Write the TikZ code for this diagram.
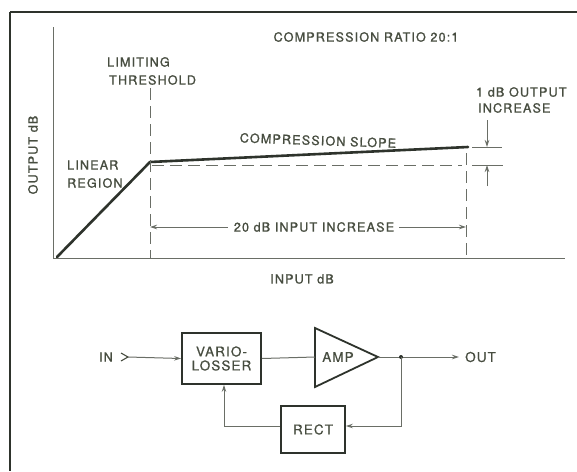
\documentclass[tikz,border=0pt]{standalone}
\usepackage{fontspec}
\newfontfamily\lblfont[LetterSpace=9,FakeBold=1.2]{TeX Gyre Heros}
\newfontfamily\blkfont[LetterSpace=8,FakeBold=0.6]{TeX Gyre Heros}
\usetikzlibrary{arrows.meta}
\definecolor{ink}{HTML}{2E332C}
\definecolor{txt}{HTML}{474D40}
\definecolor{thin}{HTML}{6A6E66}
\begin{document}
\begin{tikzpicture}[x=1pt,y=-1pt,
  lbl/.style={font=\lblfont\fontsize{12.6}{14}\selectfont, text=txt, inner sep=0pt},
  blbl/.style={font=\blkfont\fontsize{13.5}{15}\selectfont, text=txt, inner sep=0pt},
  axis/.style={draw=thin, line width=1pt},
  curve/.style={draw=ink, line width=2.6pt, line cap=round, line join=round},
  dashln/.style={draw=thin, line width=1pt, dash pattern=on 12pt off 6pt},
  dimln/.style={draw=thin, line width=0.9pt},
  tipa/.style={-{Stealth[length=7pt,width=4.5pt]}},
  box/.style={draw=ink, line width=1.8pt, inner sep=0pt, align=center},
  wire/.style={draw=thin, line width=1pt},
]
\useasboundingbox (0,0) rectangle (577,471);
\fill[white] (0,0) rectangle (577,471);
% frame
\draw[ink, line width=2pt] (10,12) -- (577,12);
\draw[ink, line width=2pt] (10,12) -- (10,471);

% axes
\coordinate (ytop) at (53,27);
\coordinate (O) at (53,258);
\coordinate (xend) at (565,258);
\draw[axis] (ytop) -- (O) -- (xend);

% curve
\coordinate (S) at (57,257);
\coordinate (K) at (150,162);
\coordinate (E) at (468,147);
\draw[curve] (S) -- (K) -- (E);

% dashed references
\coordinate (Kd) at (152,165);
\coordinate (Ed) at (462,165);
\draw[dashln] (Kd) -- (Ed);
\coordinate (T1) at (150,88);
\coordinate (T2) at (150,258);
\draw[dashln] (T1) -- (T2);
\coordinate (R1) at (466,153);
\coordinate (R2) at (466,258);
\draw[dashln] (R1) -- (R2);

% 1 dB dimension
\coordinate (a1) at (472,147); \coordinate (a2) at (502,147);
\coordinate (b1) at (472,165); \coordinate (b2) at (503,165);
\draw[dimln] (a1) -- (a2);
\draw[dimln] (b1) -- (b2);
\coordinate (up1) at (487,120); \coordinate (up2) at (487,147);
\coordinate (dn1) at (487,186); \coordinate (dn2) at (487,165);
\draw[dimln, tipa] (up1) -- (up2);
\draw[dimln, tipa] (dn1) -- (dn2);

% 20 dB dimension
\node[lbl] (inc) at (314,227) {20 dB INPUT INCREASE};
\coordinate (L20) at (150,227);
\coordinate (R20) at (466,227);
\draw[dimln, tipa] ([xshift=-6pt]inc.west) -- (L20);
\draw[dimln, tipa] ([xshift=5pt]inc.east) -- (R20);

% labels
\node[lbl] (title) at (366,37) {COMPRESSION RATIO 20:1};
\node[lbl, anchor=west] (lim) at (107,62) {LIMITING};
\node[lbl, anchor=west] (thr) at (109,80) {THRESHOLD};
\node[lbl, anchor=west] (lin) at (67,165) {LINEAR};
\node[lbl, anchor=west] (reg) at (67,183) {REGION};
\node[lbl, rotate=-2] (slopet) at (318,140.5) {COMPRESSION SLOPE};
\node[lbl, anchor=west] (odb) at (476,92) {1 dB OUTPUT};
\node[lbl, anchor=west] (oinc) at (478,108) {INCREASE};
\node[lbl, rotate=90] (ylab) at (33,155) {OUTPUT dB};
\node[lbl] (xlab) at (302,279) {INPUT dB};

% block diagram
\node[box, minimum width=79pt, minimum height=51pt, blbl] (vl) at (221.5,358.5) {VARIO-\\[-1pt]LOSSER};
\coordinate (ampin) at (315,357);
\coordinate (ampt) at (315,328);
\coordinate (ampb) at (315,387);
\coordinate (ampout) at (378,357);
\draw[ink, line width=1.8pt, line join=miter] (ampt) -- (ampout) -- (ampb) -- cycle;
\node[blbl] (amp) at (338,357) {AMP};
\node[box, minimum width=64pt, minimum height=47pt, blbl] (rect) at (313,429.5) {RECT};
\node[lbl, anchor=east] (in) at (113,357) {IN};
\node[blbl, anchor=west] (out) at (465,357) {OUT};
\coordinate (chev) at (128,357);
\draw[txt, line width=1.1pt] (121,353) -- (chev) -- (121,361);
\coordinate (j) at (401,357);
\coordinate (outend) at (459,357);
\draw[wire, tipa] (chev) -- (vl.west);
\draw[wire] (vl.east) -- (ampin);
\draw[wire] (ampout) -- (j);
\draw[wire, tipa] (j) -- (outend);
\fill[ink] (j) circle (2pt);
\coordinate (fb) at (401,426);
\draw[wire, tipa] (j) -- (fb) -- (fb -| rect.east);
\coordinate (fl) at (224,426);
\draw[wire, tipa] (fl -| rect.west) -- (fl) -- (fl |- vl.south);
\end{tikzpicture}
\end{document}
